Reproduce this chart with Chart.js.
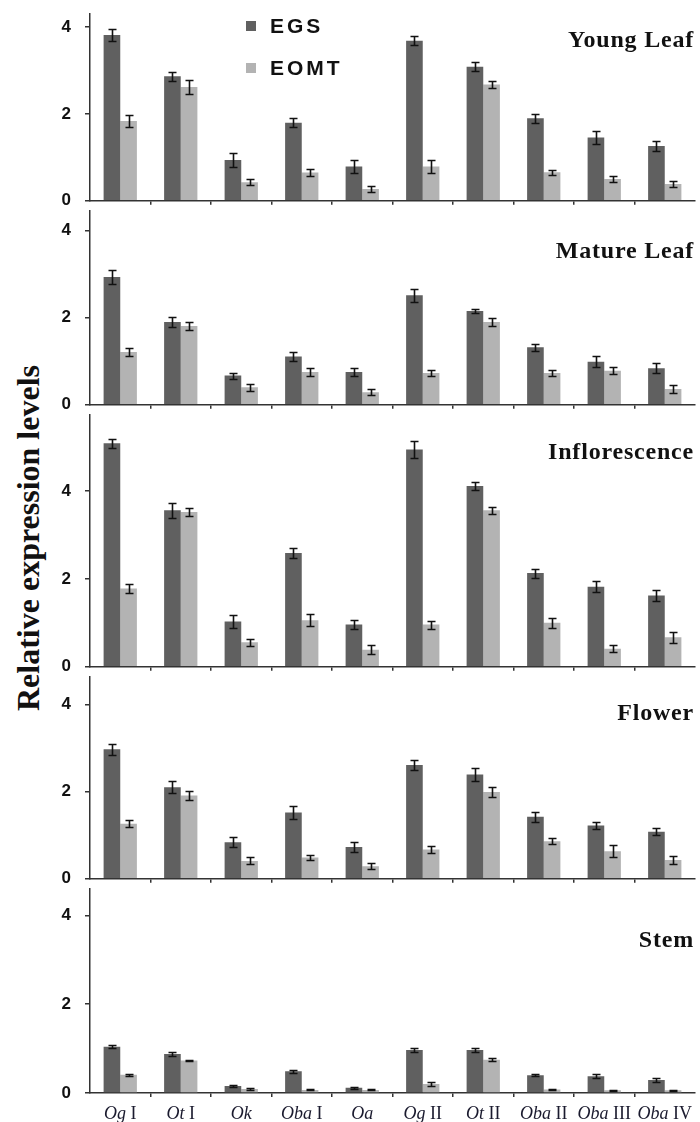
<!DOCTYPE html>
<html>
<head>
<meta charset="utf-8">
<script src="https://cdn.jsdelivr.net/npm/chart.js@4.4.1/dist/chart.umd.min.js"></script>
<style>
  body { margin: 0; background: #fff; width: 700px; height: 1122px; position: relative; overflow: hidden; }
  canvas { position: absolute; left: 0; }
  #ytitle {
    position: absolute; left: 28px; top: 538px;
    transform: translate(-50%, -50%) rotate(-90deg);
    font: bold 32px "Liberation Serif", "Times New Roman", serif;
    line-height: 1; white-space: nowrap; color: #111;
  }
</style>
</head>
<body>
<div id="ytitle">Relative expression levels</div>
<script>
// categories (genes) and tissues
const categories = ["Og I", "Ot I", "Ok", "Oba I", "Oa", "Og II", "Ot II", "Oba II", "Oba III", "Oba IV"];
const tissues = ["Young Leaf", "Mature Leaf", "Inflorescence", "Flower", "Stem"];
const seriesNames = ["EGS", "EOMT"];
const yTicks = [0, 2, 4];
const yMaxes = [4.3, 4.44, 5.72, 4.62, 4.59];

// values
const egsYoung = [3.82, 2.87, 0.94, 1.80, 0.79, 3.69, 3.09, 1.90, 1.46, 1.26];
const egsYoungErr = [0.13, 0.10, 0.15, 0.11, 0.14, 0.11, 0.11, 0.11, 0.15, 0.12];
const eomtYoung = [1.84, 2.62, 0.43, 0.65, 0.27, 0.79, 2.68, 0.66, 0.50, 0.39];
const eomtYoungErr = [0.13, 0.17, 0.07, 0.08, 0.06, 0.14, 0.08, 0.06, 0.06, 0.07];

const egsMature = [2.93, 1.90, 0.67, 1.11, 0.75, 2.51, 2.15, 1.32, 0.99, 0.84];
const egsMatureErr = [0.16, 0.11, 0.07, 0.11, 0.10, 0.15, 0.05, 0.08, 0.12, 0.12];
const eomtMature = [1.21, 1.81, 0.40, 0.75, 0.29, 0.73, 1.90, 0.73, 0.78, 0.36];
const eomtMatureErr = [0.10, 0.10, 0.08, 0.09, 0.07, 0.06, 0.10, 0.07, 0.08, 0.10];

const egsInflo = [5.08, 3.56, 1.03, 2.59, 0.96, 4.94, 4.11, 2.13, 1.82, 1.62];
const egsInfloErr = [0.11, 0.17, 0.14, 0.11, 0.10, 0.19, 0.10, 0.10, 0.13, 0.13];
const eomtInflo = [1.78, 3.52, 0.56, 1.06, 0.39, 0.96, 3.56, 1.00, 0.41, 0.67];
const eomtInfloErr = [0.10, 0.10, 0.08, 0.14, 0.10, 0.09, 0.08, 0.11, 0.08, 0.12];

const egsFlower = [2.97, 2.10, 0.84, 1.52, 0.73, 2.61, 2.39, 1.42, 1.22, 1.08];
const egsFlowerErr = [0.13, 0.14, 0.11, 0.14, 0.11, 0.12, 0.14, 0.12, 0.08, 0.08];
const eomtFlower = [1.26, 1.91, 0.41, 0.49, 0.29, 0.67, 1.99, 0.86, 0.63, 0.43];
const eomtFlowerErr = [0.08, 0.11, 0.08, 0.05, 0.07, 0.08, 0.11, 0.07, 0.14, 0.10];

const egsStem = [1.04, 0.88, 0.16, 0.49, 0.12, 0.97, 0.97, 0.40, 0.38, 0.29];
const egsStemErr = [0.03, 0.04, 0.02, 0.03, 0.02, 0.05, 0.05, 0.02, 0.05, 0.05];
const eomtStem = [0.41, 0.73, 0.09, 0.07, 0.07, 0.20, 0.75, 0.08, 0.06, 0.06];
const eomtStemErr = [0.02, 0.02, 0.02, 0.01, 0.01, 0.05, 0.04, 0.02, 0.01, 0.01];

const egsAll = [egsYoung, egsMature, egsInflo, egsFlower, egsStem];
const egsErrAll = [egsYoungErr, egsMatureErr, egsInfloErr, egsFlowerErr, egsStemErr];
const eomtAll = [eomtYoung, eomtMature, eomtInflo, eomtFlower, eomtStem];
const eomtErrAll = [eomtYoungErr, eomtMatureErr, eomtInfloErr, eomtFlowerErr, eomtStemErr];

// page layout of each panel: chart area top, zero line, title baseline
const panelBoxes = [
  { top: 10, zero: 205, titleY: 47 },
  { top: 207, zero: 409, titleY: 258 },
  { top: 411, zero: 671, titleY: 459 },
  { top: 673, zero: 883, titleY: 720 },
  { top: 885, zero: 1093, titleY: 947 }
];
const PAD_TOP = 20;
const AXIS = "#333";
const TEXT = "#111";
const barColors = ["#606060", "#b3b3b3"];

const errorBars = {
  id: "errorBars",
  afterDatasetsDraw(chart) {
    const ctx = chart.ctx, ys = chart.scales.y;
    ctx.save();
    ctx.strokeStyle = "#111";
    ctx.lineWidth = 1.6;
    chart.data.datasets.forEach((ds, di) => {
      chart.getDatasetMeta(di).data.forEach((bar, i) => {
        const v = ds.data[i], e = ds.errors[i];
        const yt = Math.round(ys.getPixelForValue(v + e)) + 0.5;
        const yb = Math.round(ys.getPixelForValue(Math.max(v - e, 0))) + 0.5;
        const x = Math.round(bar.x) + 0.5;
        ctx.beginPath();
        ctx.moveTo(x, yt); ctx.lineTo(x, yb);
        ctx.moveTo(x - 4, yt); ctx.lineTo(x + 4, yt);
        ctx.moveTo(x - 4, yb); ctx.lineTo(x + 4, yb);
        ctx.stroke();
      });
    });
    ctx.restore();
  }
};

function makeTextPlugin(k, offsetY) {
  return {
    id: "panelText" + k,
    afterDraw(chart) {
      const ctx = chart.ctx;
      ctx.save();
      ctx.fillStyle = TEXT;
      // panel title
      ctx.font = "bold 24px 'Liberation Serif', 'Times New Roman', serif";
      ctx.letterSpacing = "0.8px";
      ctx.textAlign = "right";
      ctx.textBaseline = "alphabetic";
      ctx.fillText(tissues[k], 694, panelBoxes[k].titleY - offsetY);
      ctx.letterSpacing = "0px";

      if (k === 0) {
        // legend
        const items = [{ y: 26, c: barColors[0] }, { y: 68, c: barColors[1] }];
        ctx.font = "bold 21px 'Liberation Sans', Arial, sans-serif";
        ctx.letterSpacing = "3px";
        ctx.textAlign = "left";
        ctx.textBaseline = "middle";
        items.forEach((it, i) => {
          ctx.fillStyle = it.c;
          ctx.fillRect(246, it.y - 5 - offsetY, 10, 10);
          ctx.fillStyle = TEXT;
          ctx.fillText(seriesNames[i], 270, it.y + 1 - offsetY);
        });
        ctx.letterSpacing = "0px";
      }

      if (k === tissues.length - 1) {
        // category labels: italic genus part + roman numeral
        const xs = chart.scales.x;
        const base = chart.chartArea.bottom + 26;
        categories.forEach((lab, i) => {
          const parts = lab.split(" ");
          const it = parts[0], rom = parts[1] ? " " + parts[1] : "";
          const fIt = "italic 18px 'Liberation Serif', 'Times New Roman', serif";
          const fRo = "18px 'Liberation Serif', 'Times New Roman', serif";
          ctx.font = fIt; const wI = ctx.measureText(it).width;
          ctx.font = fRo; const wR = ctx.measureText(rom).width;
          let x = xs.getPixelForValue(i) - (wI + wR) / 2;
          ctx.textAlign = "left";
          ctx.fillStyle = "#1a1a2e";
          ctx.font = fIt; ctx.fillText(it, x, base);
          ctx.font = fRo; ctx.fillText(rom, x + wI, base);
        });
      }
      ctx.restore();
    }
  };
}

tissues.forEach((t, k) => {
  const box = panelBoxes[k];
  const bottomH = k === tissues.length - 1 ? 1122 - box.zero : 20;
  const h = PAD_TOP + (box.zero - box.top) + bottomH;
  const offsetY = box.top - PAD_TOP;
  const canvas = document.createElement("canvas");
  canvas.width = 700;
  canvas.height = h;
  canvas.style.top = offsetY + "px";
  document.body.appendChild(canvas);

  new Chart(canvas, {
    type: "bar",
    data: {
      labels: categories,
      datasets: [
        { label: seriesNames[0], data: egsAll[k], errors: egsErrAll[k], backgroundColor: barColors[0] },
        { label: seriesNames[1], data: eomtAll[k], errors: eomtErrAll[k], backgroundColor: barColors[1] }
      ]
    },
    options: {
      responsive: false,
      animation: false,
      devicePixelRatio: 1,
      categoryPercentage: 0.55,
      barPercentage: 1.0,
      layout: { padding: { top: PAD_TOP, right: 5, left: 0, bottom: 0 } },
      plugins: { legend: { display: false }, tooltip: { enabled: false } },
      scales: {
        x: {
          ticks: { display: false },
          grid: {
            offset: true,
            drawOnChartArea: false,
            tickLength: 4,
            lineWidth: 1.5,
            color: (c) => (c.index === undefined || c.index === 0 ? "rgba(0,0,0,0)" : AXIS)
          },
          border: { color: AXIS, width: 1.5 },
          afterFit: (s) => { s.height = bottomH; }
        },
        y: {
          min: 0,
          max: yMaxes[k],
          afterBuildTicks: (s) => { s.ticks = yTicks.map((v) => ({ value: v })); },
          ticks: {
            padding: 14,
            color: TEXT,
            font: { family: "'Liberation Sans', Arial, sans-serif", size: 17, weight: "bold" }
          },
          grid: { drawOnChartArea: false, tickLength: 5, lineWidth: 1.5, color: AXIS },
          border: { color: AXIS, width: 1.5 },
          afterFit: (s) => { s.width = 90; }
        }
      }
    },
    plugins: [errorBars, makeTextPlugin(k, offsetY)]
  });
});
</script>
</body>
</html>
